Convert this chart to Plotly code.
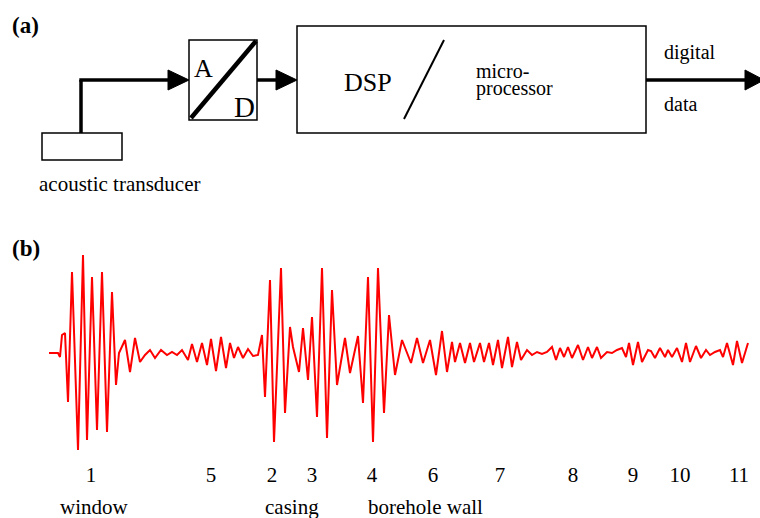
import plotly.graph_objects as go

# ---------------- data: recorded acoustic waveform (time in samples, amplitude in a.u.) ----------------
wave_t_window = [0, 9, 11, 13, 16, 19, 23, 29, 34, 38, 43, 48, 53, 58, 63, 67, 70, 76, 81, 86, 91]
wave_a_window = [0, 0, -4, 18, 20, -49, 81, -97, 98, -87, 76, -77, 81, -79, 61, -32, 0, 13, -19, 15, -9]

wave_t_quiet = [96, 101, 106, 112, 118, 123, 128, 133, 136, 139, 143, 148, 153, 158, 162, 167, 172,
                177, 181, 185, 189, 194, 199, 204, 209]
wave_a_quiet = [-2, 3, -5, 3, -2, 1, -2, 3, -2, -7, 9, -9, 10, -12, 14, -18, 16,
                -15, 10, -5, 6, -5, 4, -3, -2]

wave_t_casing = [213, 216, 221, 225, 232, 236, 241, 244, 250, 254, 259, 263, 268, 273, 278, 283, 288, 296, 301]
wave_a_casing = [18, -44, 73, -89, 85, -60, 26, 6, -19, 25, -27, 36, -64, 85, -85, 63, -32, 15, -20]

wave_t_wall = [309, 314, 319, 324, 329, 335, 340, 346, 353]
wave_a_wall = [17, -50, 76, -89, 85, -60, 38, -22, 13]

wave_t_late1 = [362, 368, 374, 381, 387, 393, 398, 403, 406, 411, 416, 421, 425, 431, 435, 440, 444,
                449, 453, 459, 463, 468, 472, 478, 483]
wave_a_late1 = [-10, 15, -10, 13, -22, 22, -19, 11, -9, 10, -10, 10, -9, 10, -9, 10, -12,
                13, -15, 16, -14, 11, -7, 3, -2]

wave_t_late2 = [488, 493, 498, 503, 507, 511, 515, 519, 523, 529, 534, 539, 543, 548, 552, 558, 563,
                568, 573, 577, 580, 584, 589, 593, 599]
wave_a_late2 = [1, -1, 1, 6, -7, 5, -4, 6, -5, 8, -7, 6, -5, 6, -5, 1, 0,
                3, 5, -4, 10, -12, 11, -9, 3]

wave_t_late3 = [602, 606, 611, 616, 619, 623, 628, 633, 637, 641, 647, 652, 657, 661, 666, 671, 674,
                678, 684, 688, 693, 699]
wave_a_late3 = [2, -5, 5, -4, 3, -4, 5, -9, 10, -9, 7, -5, 3, -2, 1, 3, -4,
                10, -12, 12, -10, 10]

wave_t = wave_t_window + wave_t_quiet + wave_t_casing + wave_t_wall + wave_t_late1 + wave_t_late2 + wave_t_late3
wave_amp = wave_a_window + wave_a_quiet + wave_a_casing + wave_a_wall + wave_a_late1 + wave_a_late2 + wave_a_late3

# arrival markers
tick_pos = [42, 162, 223, 263, 323, 384, 451, 524, 584, 631, 690]
tick_text = ["1", "5", "2", "3", "4", "6", "7", "8", "9", "10", "11"]

group_names = ["window", "casing", "borehole wall"]
group_pos = [45, 243, 376]

# block-diagram labels
lbl_transducer = "acoustic transducer"
lbl_dsp = "DSP"
lbl_micro = ["micro-", "processor"]
lbl_out = ["digital", "data"]

# ---------------- figure ----------------
W, H = 760, 518
SERIF = "Liberation Serif, Times New Roman, serif"
BLACK = "#000000"

fig = go.Figure()
fig.add_trace(go.Scatter(
    x=wave_t, y=wave_amp, mode="lines",
    line=dict(color="#ff0000", width=2),
    xaxis="x2", yaxis="y2", hoverinfo="skip", showlegend=False,
))

# geometry of the block diagram (canvas units, y downward)
shapes = []
def rect(x0, y0, x1, y1, w=1.5):
    shapes.append(dict(type="rect", xref="x", yref="y", x0=x0, y0=y0, x1=x1, y1=y1,
                       line=dict(color=BLACK, width=w), fillcolor="rgba(0,0,0,0)"))
def line(x0, y0, x1, y1, w=3.5):
    shapes.append(dict(type="line", xref="x", yref="y", x0=x0, y0=y0, x1=x1, y1=y1,
                       line=dict(color=BLACK, width=w)))
def head(xb, xt, yc, hh=10):
    shapes.append(dict(type="path", xref="x", yref="y",
                       path=f"M {xb},{yc-hh} L {xt},{yc} L {xb},{yc+hh} Z",
                       fillcolor=BLACK, line=dict(color=BLACK, width=1)))

rect(42, 133, 122, 160)              # transducer
line(81, 133, 81, 80)
line(79.3, 80, 172, 80)
head(168, 189, 80)
rect(189, 40, 257, 120)              # A/D
line(191, 118, 256, 41, w=4.5)
line(257, 80, 280, 80)
head(276, 297, 80)
rect(297, 26, 646, 133)              # DSP / microprocessor
line(444, 40, 404, 119, w=2)
line(646, 80, 748, 80)
head(745, 764, 80)

ann = []
def txt(s, x, y, size, anchor="center", bold=False, xref="x", yref="y"):
    ann.append(dict(text=(f"<b>{s}</b>" if bold else s), x=x, y=y, xref=xref, yref=yref,
                    xanchor=anchor, yanchor="middle", showarrow=False,
                    font=dict(family=SERIF, size=size, color=BLACK)))

txt("(a)", 10, 25, 23, anchor="left", bold=True)
txt("(b)", 10, 248, 23, anchor="left", bold=True)
txt(lbl_transducer, 37, 184, 21, anchor="left")
txt("A", 203, 68, 26)
txt("D", 244, 107, 29)
txt(lbl_dsp, 368, 82, 26)
txt(lbl_micro[0], 474, 71, 20, anchor="left")
txt(lbl_micro[1], 474, 88, 20, anchor="left")
txt(lbl_out[0], 662, 52, 20, anchor="left")
txt(lbl_out[1], 662, 104, 20, anchor="left")
for name, pos in zip(group_names, group_pos):
    txt(name, pos, (H - 507) / H, 21, xref="x2", yref="paper")

bottom_px = 460
d0 = (H - bottom_px) / H
fig.update_layout(
    width=W, height=H,
    margin=dict(l=0, r=0, t=0, b=0),
    paper_bgcolor="white", plot_bgcolor="rgba(0,0,0,0)",
    showlegend=False,
    xaxis=dict(range=[0, W], domain=[0, 1], visible=False, fixedrange=True),
    yaxis=dict(range=[H, 0], domain=[0, 1], visible=False, fixedrange=True),
    xaxis2=dict(range=[-49, 711], domain=[0, 1], anchor="y2",
                showgrid=False, zeroline=False, showline=False, ticks="",
                tickmode="array", tickvals=tick_pos, ticktext=tick_text,
                tickfont=dict(family=SERIF, size=21, color=BLACK), fixedrange=True),
    yaxis2=dict(range=[353 - bottom_px, 353], domain=[d0, 1], anchor="x2",
                visible=False, fixedrange=True),
    shapes=shapes,
    annotations=ann,
)

fig.write_html("out.html",
               config={"displayModeBar": False, "staticPlot": True},
               post_script="document.body.style.margin='0';document.body.style.padding='0';")
